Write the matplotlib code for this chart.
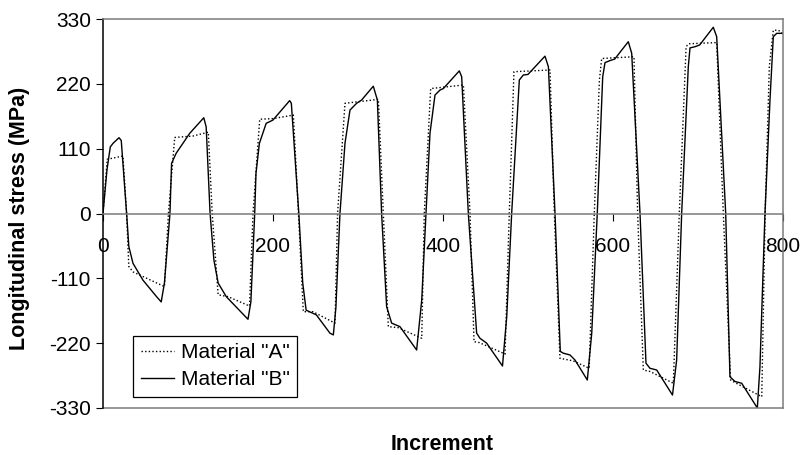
import matplotlib
matplotlib.use("Agg")
import matplotlib.pyplot as plt

plt.rcParams['font.family'] = ['Liberation Sans', 'DejaVu Sans']
plt.rcParams['axes.unicode_minus'] = False

# Material "A" (dotted) - increment, stress (MPa)
mat_a_x = [0, 5, 23.5, 27.8,
           30.4, 35.3, 72.3, 77,
           84.4, 106, 123.9, 128.5,
           135.5, 147, 172.4, 176.5,
           184.4, 200, 224, 230,
           235.7, 247, 273, 276,
           284.7, 324, 329.8,
           335.7, 347.4, 375, 378,
           385.5, 424, 431.8,
           436.5, 442.7, 473, 478,
           483.5, 525.9, 531,
           537.6, 553, 572, 578,
           584, 586.7, 624.7, 629,
           635.7, 643.5, 671, 678,
           686, 689, 722, 729.8,
           738.4, 745, 775, 779,
           783.9, 788.6, 794.5, 800]
mat_a_y = [0, 92, 97.5, 0,
           -90, -99, -124, 0,
           129, 131.5, 138, 0,
           -138, -141, -157, 0,
           160, 161, 167, 0,
           -166.6, -166.6, -186, 0,
           187, 193.7, 0,
           -192, -193.7, -211.7, 0,
           212, 218, 0,
           -217.5, -219, -238.4, 0,
           240.6, 243.5, 0,
           -245.7, -250, -262.6, 0,
           226.5, 263, 266, 0,
           -265.5, -268, -288, 0,
           283, 288, 290, 0,
           -282.5, -288, -310.8, 0,
           249, 311, 311, 305]

# Material "B" (solid)
mat_b_x = [0, 4.7, 8.6, 11.8, 18.8, 21.5, 27.8,
           30.4, 35.3, 47, 63, 68.5, 72.3, 78.8,
           80.7, 86, 102, 118.6, 121.4, 126,
           130.5, 135.5, 145, 170.6, 174, 178.5,
           180, 184, 192, 200, 219.6, 221.6, 230.4,
           235, 239, 251, 267, 271, 274, 278.8,
           284.7, 290.6, 298.4, 304.3, 318, 322.8, 327.8,
           333.7, 339.6, 349.4, 369, 375, 380,
           384.7, 390.6, 396.5, 400.4, 419.2, 422, 429.8,
           439.6, 443.5, 451.4, 470, 475, 480.8,
           489.8, 494.5, 500, 520, 524, 531.8,
           538, 541.6, 549.4, 555.3, 569.8, 575, 581.5,
           587.9, 590.6, 596.5, 602, 618, 622, 631.8,
           638.8, 643.5, 651.4, 670, 674.9, 680.8,
           688.6, 690.6, 696.5, 702, 718, 722, 732.6,
           737.6, 743.5, 751.4, 769.8, 772.9, 778.8,
           784.7, 788.6, 792.6, 800]
mat_b_y = [0, 74, 113, 119, 128.6, 124, 0,
           -56, -84.5, -113, -141, -150, -118, 0,
           85, 102, 136, 162.5, 147, 0,
           -79, -118, -141, -179.5, -150, 0,
           68, 119, 153, 158.6, 191.5, 187, 0,
           -118, -164, -172, -203, -206, -160, 0,
           119, 175.6, 187, 192.6, 216, 192.6, 0,
           -158, -186, -192, -231.6, -146.8, 0,
           136, 201, 209.5, 212, 242, 232, 0,
           -203, -211.7, -220, -258.7, -175, 0,
           226.5, 235, 236, 267, 249, 0,
           -234, -237, -240, -248.6, -282.5, -203, 0,
           232, 256, 259.5, 262, 291.5, 272, 0,
           -254, -262.6, -265.5, -308, -248.6, 0,
           249, 281, 283, 286, 316, 300, 0,
           -277, -285, -288, -330, -260, 0,
           192.6, 300, 305.7, 305.7]

x_ticks = [0, 200, 400, 600, 800]
y_ticks = [-330, -220, -110, 0, 110, 220, 330]

fig = plt.figure(figsize=(8.02, 4.55), dpi=100)
ax = fig.add_axes([0.1284, 0.1033, 0.8479, 0.8549])

ax.plot(mat_a_x, mat_a_y, color='black', lw=1.0, linestyle=(0, (1, 1.6)),
        label='Material "A"')
ax.plot(mat_b_x, mat_b_y, color='black', lw=1.0, label='Material "B"')

ax.set_xlim(0, 800)
ax.set_ylim(-330, 330)
ax.set_xticks(x_ticks)
ax.set_yticks(y_ticks)

frame_grey = '#7a7a7a'
ax.spines['bottom'].set_position(('data', 0))
ax.spines['bottom'].set_color(frame_grey)
ax.spines['top'].set_color(frame_grey)
ax.spines['right'].set_color(frame_grey)
ax.spines['left'].set_color('black')
for s in ax.spines.values():
    s.set_linewidth(1.1)
# lower edge of the frame (bottom spine is moved to y=0)
ax.plot([0, 800], [-330, -330], color=frame_grey, lw=1.1, clip_on=False)

ax.tick_params(axis='y', direction='out', length=4.7, width=0.8,
               labelsize=15, pad=4)
ax.tick_params(axis='x', direction='out', length=4.7, width=0.8,
               labelsize=15, pad=12)

fig.text(20 / 802, 0.52, 'Longitudinal stress (MPa)', rotation=90,
         ha='center', va='center', fontsize=15.5, fontweight='bold')
fig.text(442 / 802, 5 / 455, 'Increment', ha='center', va='baseline',
         fontsize=15.5, fontweight='bold')

leg = ax.legend(loc='lower left', bbox_to_anchor=(0.0446, 0.029),
                borderaxespad=0, fontsize=15, handlelength=1.6,
                handletextpad=0.32, borderpad=0.35, labelspacing=0.4,
                fancybox=False, framealpha=1, edgecolor='black')
leg.get_frame().set_linewidth(0.9)

fig.savefig('out.png', dpi=100)
